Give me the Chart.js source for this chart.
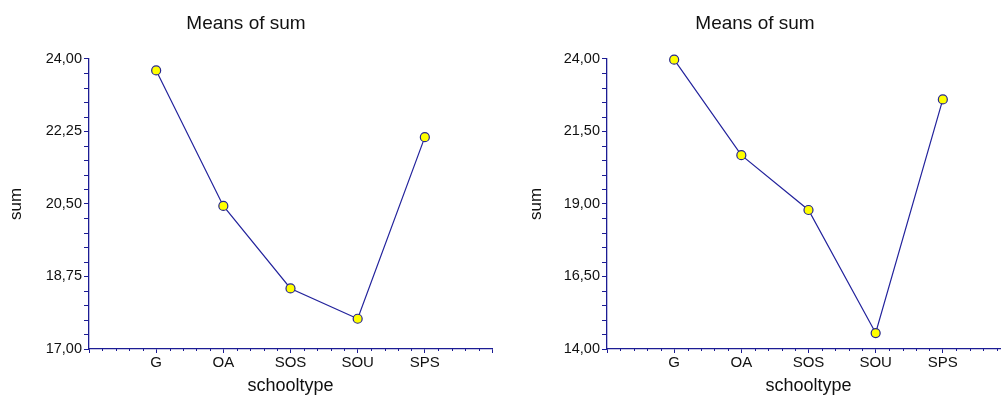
<!DOCTYPE html>
<html>
<head>
<meta charset="utf-8">
<script src="https://cdn.jsdelivr.net/npm/chart.js@4/dist/chart.umd.min.js"></script>
<style>
  html, body { margin: 0; padding: 0; background: #fff; overflow: hidden; width: 1001px; height: 399px; }
  #c1 { position: absolute; left: 0; top: 0; }
  #c2 { position: absolute; left: 500px; top: 0; }
</style>
</head>
<body>
<canvas id="c1" width="500" height="399"></canvas>
<canvas id="c2" width="520" height="399"></canvas>
<script>
// ---- data ----
const categories = ['G', 'OA', 'SOS', 'SOU', 'SPS'];
const leftMeans  = [23.72, 20.45, 18.46, 17.73, 22.11];
const rightMeans = [23.97, 20.68, 18.79, 14.55, 22.60];
const leftYTicks  = [17.00, 18.75, 20.50, 22.25, 24.00];
const rightYTicks = [14.00, 16.50, 19.00, 21.50, 24.00];
const chartTitle = 'Means of sum';
const xTitle = 'schooltype';
const yTitle = 'sum';

const AXIS = '#1c1c94';
const LINE = '#22229c';
const FONT = "'Liberation Sans', Arial, sans-serif";

function fmt(v) { return v.toFixed(2).replace('.', ','); }

const minorTicks = {
  id: 'minorTicks',
  afterDraw(chart) {
    const ctx = chart.ctx;
    const xs = chart.scales.x, ys = chart.scales.y;
    const area = chart.chartArea;
    ctx.save();
    ctx.strokeStyle = AXIS;
    ctx.lineWidth = 1;
    ctx.beginPath();
    const yt = ys.ticks.map(t => t.value);
    for (let i = 0; i < yt.length - 1; i++) {
      for (let k = 1; k < 5; k++) {
        const v = yt[i] + (yt[i + 1] - yt[i]) * k / 5;
        const py = Math.round(ys.getPixelForValue(v)) + 0.5;
        ctx.moveTo(area.left - 5, py);
        ctx.lineTo(area.left, py);
      }
    }
    const xt = xs.ticks.map(t => t.value);
    for (let i = 0; i < xt.length - 1; i++) {
      for (let k = 1; k < 5; k++) {
        const v = xt[i] + (xt[i + 1] - xt[i]) * k / 5;
        const px = Math.round(xs.getPixelForValue(v)) + 0.5;
        ctx.moveTo(px, area.bottom);
        ctx.lineTo(px, area.bottom + 2);
      }
    }
    ctx.stroke();
    ctx.restore();
  }
};

function makeChart(id, means, yTicks, yWidth, yTitlePad, rightPad) {
  const data = means.map((v, i) => ({ x: i + 1, y: v }));
  return new Chart(document.getElementById(id), {
    type: 'line',
    data: {
      datasets: [{
        data: data,
        borderColor: LINE,
        borderWidth: 1.2,
        pointRadius: 4.5,
        pointBorderWidth: 1.2,
        pointBackgroundColor: '#ffff00',
        pointBorderColor: '#26268e',
        tension: 0,
        fill: false,
        clip: false
      }]
    },
    options: {
      responsive: false,
      animation: false,
      events: [],
      layout: { padding: { left: 0, right: rightPad, top: 0, bottom: 0 } },
      plugins: {
        legend: { display: false },
        tooltip: { enabled: false },
        title: {
          display: true,
          text: chartTitle,
          color: '#111',
          font: { family: FONT, size: 19, weight: 'normal' },
          padding: { top: 12, bottom: 24 }
        }
      },
      scales: {
        x: {
          type: 'linear',
          min: 0,
          max: categories.length + 1,
          afterBuildTicks: (s) => {
            s.ticks = [0].concat(categories.map((c, i) => i + 1), [categories.length + 1]).map(v => ({ value: v }));
          },
          afterFit: (s) => { s.height = 50; },
          ticks: {
            autoSkip: false,
            maxRotation: 0,
            padding: 1,
            color: '#111',
            font: { family: FONT, size: 15 },
            callback: (v) => categories[v - 1] || ''
          },
          grid: { drawOnChartArea: false, drawTicks: true, tickLength: 4, color: AXIS },
          border: { display: true, color: AXIS, width: 1.3 },
          title: {
            display: true, text: xTitle, color: '#111',
            font: { family: FONT, size: 18 },
            padding: { top: 0, bottom: 2 }
          }
        },
        y: {
          type: 'linear',
          min: yTicks[0],
          max: yTicks[yTicks.length - 1],
          afterBuildTicks: (s) => { s.ticks = yTicks.map(v => ({ value: v })); },
          afterFit: (s) => { s.width = yWidth; },
          ticks: {
            autoSkip: false,
            padding: 2,
            color: '#111',
            font: { family: FONT, size: 14.5 },
            callback: (v) => fmt(v)
          },
          grid: { drawOnChartArea: false, drawTicks: true, tickLength: 5, color: AXIS },
          border: { display: true, color: AXIS, width: 1.3 },
          title: {
            display: true, text: yTitle, color: '#111',
            font: { family: FONT, size: 17 },
            padding: { top: yTitlePad, bottom: 0 }
          }
        }
      }
    },
    plugins: [minorTicks]
  });
}

makeChart('c1', leftMeans, leftYTicks, 89, 6.5, 8);
makeChart('c2', rightMeans, rightYTicks, 107, 26, 10);
</script>
</body>
</html>
